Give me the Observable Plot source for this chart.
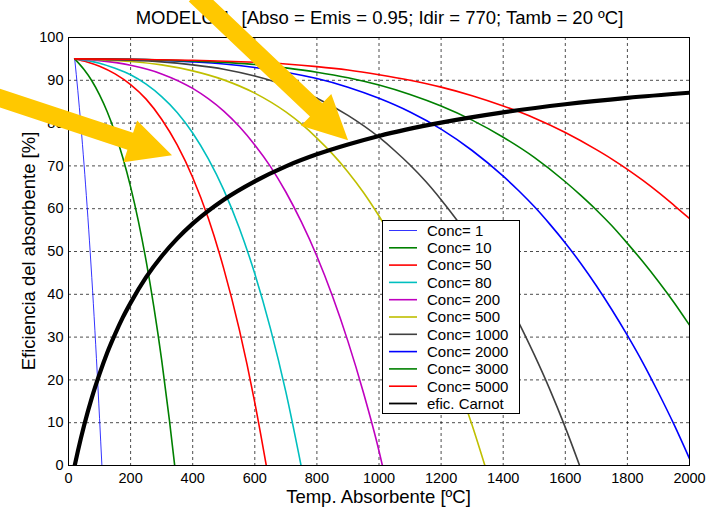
<!DOCTYPE html>
<html><head><meta charset="utf-8">
<script src="https://cdn.jsdelivr.net/npm/d3@7"></script>
<script src="https://cdn.jsdelivr.net/npm/@observablehq/plot@0.6"></script>
<style>html,body{margin:0;padding:0;background:#fff;} #chart{width:710px;height:508px;}</style>
</head><body><div id="chart"></div>
<script>
// ---- data (temperature °C, efficiency %) ----
const conc1 = [[20,95],[30,87.6],[40,79.4],[50,70.4],[60,60.5],[70,49.7],[80,37.9],[90,25.0],[100,11.0],[107.6,0]];
const conc10 = [[20,95],[50,92.5],[75,89.9],[100,86.6],[125,82.6],[150,77.7],[175,71.9],[200,65.1],[225,57.1],[250,47.8],[275,37.0],[300,24.7],[325,10.6],[342,0]];
const conc50 = [[20,95],[60,94.3],[100,93.3],[150,91.5],[200,89.0],[250,85.6],[300,80.9],[350,74.9],[400,67.3],[450,57.8],[500,46.0],[550,31.8],[600,14.7],[637,0]];
const conc80 = [[20,95],[100,94.0],[150,92.8],[200,91.3],[250,89.1],[300,86.2],[350,82.5],[400,77.7],[450,71.7],[500,64.4],[550,55.5],[600,44.8],[650,32.1],[700,17.2],[749,0]];
const conc200 = [[20,95],[100,94.6],[200,93.5],[300,91.5],[400,88.1],[450,85.7],[500,82.8],[550,79.2],[600,74.9],[650,69.9],[700,63.9],[750,56.9],[800,48.9],[850,39.6],[900,29.0],[950,17.0],[1000,3.4],[1011,0]];
const conc500 = [[20,95],[100,94.8],[200,94.4],[300,93.6],[400,92.2],[500,90.1],[600,87.0],[700,82.6],[750,79.8],[800,76.5],[850,72.8],[900,68.6],[950,63.8],[1000,58.3],[1050,52.2],[1100,45.4],[1150,37.7],[1200,29.2],[1250,19.8],[1300,9.4],[1341,0]];
const conc1000 = [[20,95],[200,94.7],[300,94.3],[400,93.6],[500,92.6],[600,91.0],[700,88.8],[800,85.8],[900,81.8],[1000,76.7],[1050,73.6],[1100,70.2],[1150,66.4],[1200,62.1],[1250,57.4],[1300,52.2],[1350,46.5],[1400,40.2],[1450,33.4],[1500,25.9],[1550,17.8],[1600,8.9],[1646,0]];
const conc2000 = [[20,95],[200,94.9],[400,94.3],[500,93.8],[600,93.0],[700,91.9],[800,90.4],[900,88.4],[1000,85.8],[1100,82.6],[1200,78.6],[1300,73.6],[1400,67.6],[1450,64.2],[1500,60.5],[1550,56.4],[1600,52.0],[1650,47.2],[1700,42.0],[1750,36.4],[1800,30.4],[1850,24.0],[1900,17.0],[1950,9.6],[2000,1.6]];
const conc3000 = [[20,95],[200,94.9],[400,94.5],[600,93.7],[700,92.9],[800,91.9],[900,90.6],[1000,88.9],[1100,86.7],[1200,84.0],[1300,80.7],[1400,76.7],[1500,72.0],[1600,66.3],[1650,63.1],[1700,59.7],[1750,56.0],[1800,51.9],[1850,47.6],[1900,43.0],[1950,38.1],[2000,32.8]];
const conc5000 = [[20,95],[200,94.9],[400,94.7],[600,94.2],[700,93.8],[800,93.2],[900,92.4],[1000,91.3],[1100,90.0],[1200,88.4],[1300,86.4],[1400,84.0],[1500,81.2],[1600,77.8],[1700,73.8],[1750,71.6],[1800,69.2],[1850,66.6],[1900,63.8],[1950,60.8],[2000,57.7]];
const carnot = [[20,0],[30,3.3],[40,6.4],[50,9.3],[75,15.8],[100,21.4],[125,26.4],[150,30.7],[175,34.6],[200,38.0],[250,44.0],[300,48.9],[350,53.0],[400,56.5],[500,62.1],[600,66.4],[700,69.9],[800,72.7],[900,75.0],[1000,77.0],[1200,80.1],[1400,82.5],[1600,84.4],[1800,85.9],[2000,87.1]];

const seriesNames = ["Conc= 1","Conc= 10","Conc= 50","Conc= 80","Conc= 200","Conc= 500","Conc= 1000","Conc= 2000","Conc= 3000","Conc= 5000","efic. Carnot"];
const seriesData = [conc1, conc10, conc50, conc80, conc200, conc500, conc1000, conc2000, conc3000, conc5000, carnot];
const xTicks = [0,200,400,600,800,1000,1200,1400,1600,1800,2000];
const yTicks = [0,10,20,30,40,50,60,70,80,90,100];
const titleText = "MODELO 1. [Abso = Emis = 0.95; Idir = 770; Tamb = 20 ºC]";
const xLabel = "Temp. Absorbente [ºC]";
const yLabel = "Eficiencia del absorbente [%]";
// annotation arrows (tail → tip) in data units
const arrowTails = [[-235, 86.1], [409, 109.8]];
const arrowTips = [[335, 72.4], [902, 75.9]];

// ---- styles ----
const colors = ["#0000ff","#008000","#ff0000","#00bfbf","#bf00bf","#bfbf00","#404040","#0000ff","#008000","#ff0000","#000000"];
const widths = [0.8,1.6,1.6,1.6,1.6,1.6,1.6,1.6,1.6,1.6,4.2];
const FONT = "'Liberation Sans', Arial, Helvetica, sans-serif";

const chart = Plot.plot({
  width: 710, height: 508,
  marginLeft: 68, marginRight: 21, marginTop: 37, marginBottom: 43,
  style: {fontFamily: FONT, fontSize: "14.5px", color: "#000", background: "#fff", overflow: "visible"},
  x: {domain: [0, 2000], ticks: xTicks, tickFormat: "d", tickSize: 0, tickPadding: 7, label: null},
  y: {domain: [0, 100], ticks: yTicks, tickFormat: "d", tickSize: 0, tickPadding: 5, label: null},
  marks: [
    Plot.ruleX(xTicks.slice(1, -1), {stroke: "#000", strokeOpacity: 0.7, strokeDasharray: "3,3"}),
    Plot.ruleY(yTicks.slice(1, -1), {stroke: "#000", strokeOpacity: 0.7, strokeDasharray: "3,3"}),
    ...seriesData.map((arr, i) => Plot.line(arr, {
      x: d => d[0], y: d => d[1], stroke: colors[i], strokeWidth: widths[i],
      curve: "monotone-x", clip: true, strokeLinejoin: "round", strokeLinecap: "round"
    })),
    Plot.frame({stroke: "#000", strokeWidth: 1})
  ]
});
document.getElementById("chart").appendChild(chart);

const svg = d3.select(chart);
const sx = chart.scale("x"), sy = chart.scale("y");
const X = d3.scaleLinear(sx.domain, sx.range), Y = d3.scaleLinear(sy.domain, sy.range);

// title and axis labels
const cx = (X(0) + X(2000)) / 2, cy = (Y(0) + Y(100)) / 2;
svg.append("text").attr("x", cx + 1).attr("y", 24).attr("text-anchor", "middle")
  .attr("font-size", "18.5px").attr("font-family", FONT).attr("fill", "#000").text(titleText);
svg.append("text").attr("x", cx).attr("y", 503).attr("text-anchor", "middle")
  .attr("font-size", "18.5px").attr("font-family", FONT).attr("fill", "#000").text(xLabel);
svg.append("text").attr("transform", `translate(35,${cy}) rotate(-90)`).attr("text-anchor", "middle")
  .attr("font-size", "18.5px").attr("font-family", FONT).attr("fill", "#000").text(yLabel);

// legend
const lg = svg.append("g").attr("transform", "translate(382,220)");
lg.append("rect").attr("x", 0.5).attr("y", 0.5).attr("width", 137).attr("height", 193)
  .attr("fill", "#fff").attr("stroke", "#000").attr("stroke-width", 1);
seriesNames.forEach((name, i) => {
  const yy = 10.5 + i * 17.3;
  lg.append("line").attr("x1", 7).attr("x2", 35).attr("y1", yy).attr("y2", yy)
    .attr("stroke", colors[i]).attr("stroke-width", Math.min(widths[i], 1.8));
  lg.append("text").attr("x", 45).attr("y", yy + 5.3).attr("text-anchor", "start").attr("font-size", "15px")
    .attr("font-family", FONT).attr("fill", "#000").text(name);
});

// arrows
function arrowPoly(x1, y1, x2, y2, w, hw, hl) {
  const dx = x2 - x1, dy = y2 - y1, L = Math.hypot(dx, dy), ux = dx / L, uy = dy / L, px = -uy, py = ux;
  const bx = x2 - ux * hl, by = y2 - uy * hl;
  return [[x1 + px * w / 2, y1 + py * w / 2], [bx + px * w / 2, by + py * w / 2], [bx + px * hw / 2, by + py * hw / 2],
    [x2, y2], [bx - px * hw / 2, by - py * hw / 2], [bx - px * w / 2, by - py * w / 2], [x1 - px * w / 2, y1 - py * w / 2]];
}
arrowTails.forEach((t, i) => {
  const p = arrowPoly(X(t[0]), Y(t[1]), X(arrowTips[i][0]), Y(arrowTips[i][1]), 18, 44, 44);
  svg.append("polygon").attr("points", p.map(q => q.join(",")).join(" ")).attr("fill", "#ffc800");
});
</script>
</body></html>
